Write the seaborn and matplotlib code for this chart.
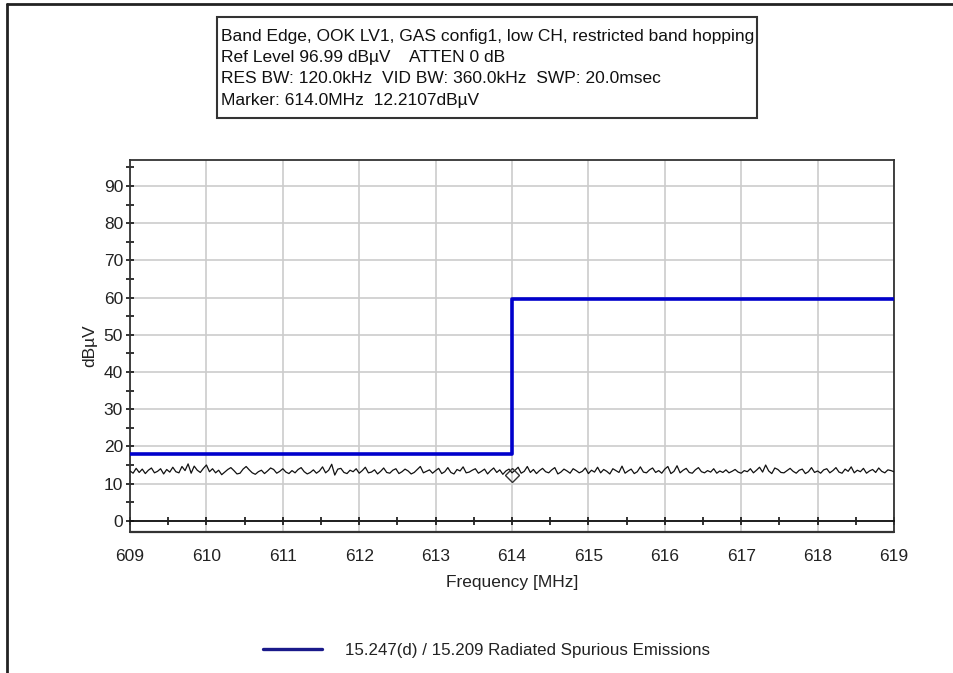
import numpy as np
import pandas as pd
import matplotlib
matplotlib.use("Agg")
import matplotlib.pyplot as plt
from matplotlib.lines import Line2D
from matplotlib.patches import Rectangle
from matplotlib.ticker import MultipleLocator
import seaborn as sns

# Limit line (15.247(d) / 15.209), step at the band edge
limit_freq = [609.0, 614.0, 614.0, 619.0]
limit_level = [18.0, 18.0, 59.7, 59.7]

# Measured peak trace, 609-619 MHz sweep
trace_level = [
    13.4, 12.8, 14.1, 13.0, 13.9, 12.7, 13.6, 14.2, 12.9, 13.3, 14.0, 12.6, 13.8, 13.1, 14.4, 13.2, 12.9, 14.6, 13.5, 15.3, 12.8, 14.7, 13.6, 13.0, 14.1,
    15.0, 13.2, 14.0, 12.9, 13.6, 12.4, 13.1, 13.8, 14.3, 13.5, 12.6, 12.8, 13.9, 14.6, 13.7, 12.9, 12.5, 13.2, 13.6, 12.7, 13.4, 14.2, 13.8, 12.8, 13.3,
    14.0, 13.1, 12.7, 13.5, 12.9, 13.8, 14.3, 13.2, 12.6, 13.0, 13.7, 12.8, 13.4, 14.5, 12.9, 13.6, 15.2, 12.3, 13.9, 14.1, 13.0, 12.7, 13.6, 13.2, 14.0,
    12.8, 13.5, 14.4, 12.9, 13.1, 13.7, 12.6, 13.3, 14.2, 13.0, 12.8, 13.6, 14.0, 12.7, 13.2, 13.9, 13.4, 12.6, 13.0, 13.8, 14.6, 12.9, 13.3, 13.7, 12.8,
    13.5, 14.1, 12.7, 13.2, 14.3, 13.0, 12.6, 13.8, 13.4, 14.5, 12.9, 13.1, 13.6, 14.0, 12.8, 13.3, 13.9, 12.6, 13.5, 14.2, 13.0, 13.7, 12.5, 13.4, 13.9,
    12.9, 13.6, 14.4, 12.8, 13.3, 14.6, 13.0, 13.8, 12.7, 13.5, 14.1, 13.2, 12.9, 13.7, 14.3, 12.6, 13.1, 13.9, 13.4, 12.8, 14.0, 13.5, 12.9, 13.3, 14.2,
    12.7, 13.6, 13.1, 14.4, 12.9, 13.8, 13.3, 12.6, 14.0, 13.5, 13.0, 14.7, 12.8, 13.4, 13.9, 12.7, 13.2, 14.5, 13.1, 12.9, 13.7, 14.2, 13.0, 13.5, 12.8,
    13.9, 14.6, 12.7, 13.3, 14.8, 12.9, 13.6, 14.1, 13.0, 12.8, 13.7, 14.3, 13.2, 12.9, 13.5, 13.1, 14.0, 12.8, 13.4, 13.0, 13.7, 12.9, 13.3, 13.8, 13.1,
    12.8, 13.5, 13.2, 14.0, 12.9, 13.6, 14.4, 13.1, 15.0, 13.4, 12.7, 14.2, 13.8, 13.0, 12.9, 13.5, 14.1, 13.3, 12.8, 13.6, 13.9, 12.7, 13.2, 14.3, 13.0,
    13.4, 12.8, 13.7, 14.0, 12.9, 13.5, 14.3, 13.1, 12.8, 13.9, 13.3, 14.5, 12.9, 13.6, 13.2, 14.1, 12.8, 13.4, 13.8, 13.0, 14.2, 13.3, 12.9, 13.7, 13.5, 13.2,
]
sweep_start, sweep_stop = 609.0, 619.0

# Marker reading
marker_freq = 614.0
marker_level = 12.2107

header_lines = [
    "Band Edge, OOK LV1, GAS config1, low CH, restricted band hopping",
    "Ref Level 96.99 dB\u00b5V    ATTEN 0 dB",
    "RES BW: 120.0kHz  VID BW: 360.0kHz  SWP: 20.0msec",
    "Marker: 614.0MHz  12.2107dB\u00b5V",
]
legend_label = "15.247(d) / 15.209 Radiated Spurious Emissions"
ref_level = 96.99

sns.set_style("white")
plt.rcParams["font.family"] = ["Liberation Sans", "DejaVu Sans"]

fig = plt.figure(figsize=(9.54, 6.73), dpi=100)
ax = fig.add_axes([0.1363, 0.2095, 0.8008, 0.5527])

trace_df = pd.DataFrame({
    "freq": np.linspace(sweep_start, sweep_stop, len(trace_level)),
    "level": trace_level,
})
limit_df = pd.DataFrame({"freq": limit_freq, "level": limit_level})

sns.lineplot(data=trace_df, x="freq", y="level", ax=ax, color="#111111",
             linewidth=0.9, estimator=None, sort=False, zorder=3)
sns.lineplot(data=limit_df, x="freq", y="level", ax=ax, color="#0000cc",
             linewidth=2.6, estimator=None, sort=False, zorder=4)
ax.plot([marker_freq], [marker_level], marker="D", markersize=7.5,
        markerfacecolor="none", markeredgecolor="#333333",
        markeredgewidth=1.0, linestyle="none", zorder=5)

ax.set_xlim(sweep_start, sweep_stop)
ax.set_ylim(ref_level - 100, ref_level)

ax.xaxis.set_major_locator(MultipleLocator(1))
ax.xaxis.set_minor_locator(MultipleLocator(0.5))
ax.yaxis.set_major_locator(MultipleLocator(10))
ax.yaxis.set_minor_locator(MultipleLocator(5))
ax.set_yticks(np.arange(0, 91, 10))

ax.grid(True, which="major", color="#cccccc", linewidth=1.2, zorder=0)
ax.set_axisbelow(True)

# x axis drawn along 0 dBµV, box closed underneath
ax.spines["bottom"].set_position(("data", 0))
ax.spines["bottom"].set_color("#111111")
ax.spines["bottom"].set_linewidth(1.3)
for side in ("left", "top", "right"):
    ax.spines[side].set_color("#333333")
    ax.spines[side].set_linewidth(1.3)
ax.add_line(Line2D([0, 1], [0, 0], transform=ax.transAxes, color="#333333",
                   linewidth=1.6, clip_on=False))

ax.tick_params(axis="x", which="both", bottom=True, direction="inout", length=6,
               width=1.2, color="#111111", labelsize=12.5, pad=17,
               labelcolor="#222222")
ax.tick_params(axis="y", which="both", left=True, direction="inout", length=6,
               width=1.2, color="#111111", labelsize=12.5, pad=2,
               labelcolor="#222222")
ax.tick_params(axis="x", which="minor", labelbottom=False)

ax.set_xlabel("Frequency [MHz]", fontsize=12.5, color="#222222", labelpad=8)
ax.set_ylabel("dB\u00b5V", fontsize=12.5, color="#222222", labelpad=5)

# Header box with instrument settings
fig.add_artist(Rectangle((0.2275, 0.8247), 0.566, 0.150, transform=fig.transFigure,
                         facecolor="white", edgecolor="#333333", linewidth=1.5))
for i, line in enumerate(header_lines):
    fig.text(0.2317, 0.9465 - i * 0.0317, line, fontsize=12.5, color="#111111",
             va="center", ha="left")

# Outer frame (top and left edges)
fig.add_artist(Line2D([0.0073, 1.0], [0.994, 0.994], transform=fig.transFigure,
                      color="#222222", linewidth=2))
fig.add_artist(Line2D([0.0073, 0.0073], [0.0, 0.994], transform=fig.transFigure,
                      color="#222222", linewidth=2))

handle = Line2D([], [], color="#1a1a8a", linewidth=2.4)
fig.legend([handle], [legend_label], loc="center", bbox_to_anchor=(0.51, 0.033),
           frameon=False, fontsize=12.2, handlelength=3.5, handletextpad=1.35,
           labelcolor="#222222")

fig.savefig("out.png", dpi=100)
